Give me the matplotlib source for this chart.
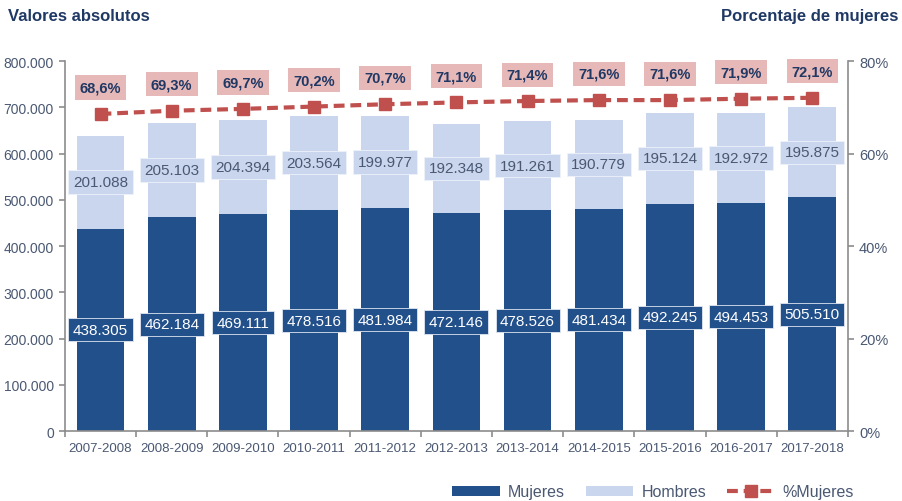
import matplotlib
matplotlib.use("Agg")
import matplotlib.pyplot as plt
import numpy as np
from matplotlib.ticker import FuncFormatter, FixedLocator

plt.rcParams["font.family"] = ["Liberation Sans", "DejaVu Sans"]

cursos = ["2007-2008", "2008-2009", "2009-2010", "2010-2011", "2011-2012", "2012-2013",
          "2013-2014", "2014-2015", "2015-2016", "2016-2017", "2017-2018"]
mujeres = [438305, 462184, 469111, 478516, 481984, 472146, 478526, 481434, 492245, 494453, 505510]
hombres = [201088, 205103, 204394, 203564, 199977, 192348, 191261, 190779, 195124, 192972, 195875]
pct_mujeres = [68.6, 69.3, 69.7, 70.2, 70.7, 71.1, 71.4, 71.6, 71.6, 71.9, 72.1]

C_MUJ = "#22508a"
C_HOM = "#c9d6ee"
C_LINE = "#c0504d"
C_PCT_BG = "#e6b8b7"
C_TEXT = "#4a5872"
C_TITLE = "#1f3864"
C_AXIS = "#8c8c8c"


def miles(v, _=None):
    return f"{int(v):,}".replace(",", ".")


fig = plt.figure(figsize=(9.02, 5.02), dpi=100)
ax = fig.add_axes([0.072, 0.139, 0.868, 0.737])
x = np.arange(len(cursos))
w = 0.67

ax.bar(x, mujeres, w, color=C_MUJ, label="Mujeres", zorder=2)
ax.bar(x, hombres, w, bottom=mujeres, color=C_HOM, label="Hombres", zorder=2)

for xi, m, h in zip(x, mujeres, hombres):
    ax.text(xi, m / 2, miles(m), ha="center", va="center", fontsize=11, color="white", zorder=4,
            bbox=dict(boxstyle="square,pad=0.3", fc=C_MUJ, ec="#dfe6f2", lw=0.6))
    ax.text(xi, m + h / 2, miles(h), ha="center", va="center", fontsize=11, color=C_TEXT, zorder=4,
            bbox=dict(boxstyle="square,pad=0.3", fc=C_HOM, ec="#eef2fa", lw=0.6))

ax.set_xlim(-0.5, len(cursos) - 0.5)
ax.set_ylim(0, 800000)
ax.set_yticks(np.arange(0, 800001, 100000))
ax.yaxis.set_major_formatter(FuncFormatter(miles))
ax.set_xticks(x)
ax.set_xticklabels(cursos)
ax.xaxis.set_minor_locator(FixedLocator(np.arange(-0.5, len(cursos), 1)))
ax.tick_params(axis="x", which="major", length=0, pad=8, labelsize=9.5, labelcolor=C_TEXT)
ax.tick_params(axis="x", which="minor", length=4, color=C_AXIS, width=1.2)
ax.tick_params(axis="y", length=4, color=C_AXIS, width=1.2, labelsize=10, labelcolor=C_TEXT, pad=4)
for s in ["top", "right"]:
    ax.spines[s].set_visible(False)
for s in ["left", "bottom"]:
    ax.spines[s].set_color(C_AXIS)
    ax.spines[s].set_linewidth(1.2)

ax2 = ax.twinx()
ax2.plot(x, pct_mujeres, color=C_LINE, lw=3, ls=(0, (2.6, 1.4)), marker="s", ms=9,
         label="%Mujeres", zorder=5)
ax2.set_ylim(0, 80)
ax2.set_yticks([0, 20, 40, 60, 80])
ax2.yaxis.set_major_formatter(FuncFormatter(lambda v, _: f"{int(v)}%"))
ax2.tick_params(axis="y", length=4, color=C_AXIS, width=1.2, labelsize=10.5, labelcolor=C_TEXT, pad=4)
for s in ["top", "left", "bottom"]:
    ax2.spines[s].set_visible(False)
ax2.spines["right"].set_color(C_AXIS)
ax2.spines["right"].set_linewidth(1.2)

for xi, p in zip(x, pct_mujeres):
    ax2.annotate(f"{p:.1f}%".replace(".", ","), (xi, p), xytext=(0, 19), textcoords="offset points",
                 ha="center", va="center", fontsize=10.5, fontweight="bold", color=C_TITLE,
                 bbox=dict(boxstyle="square,pad=0.35", fc=C_PCT_BG, ec="none"))

fig.text(0.009, 0.958, "Valores absolutos", fontsize=12, fontweight="bold", color=C_TITLE)
fig.text(0.996, 0.958, "Porcentaje de mujeres", fontsize=12, fontweight="bold", color=C_TITLE, ha="right")

h1, l1 = ax.get_legend_handles_labels()
h2, l2 = ax2.get_legend_handles_labels()
fig.legend(h1 + h2, l1 + l2, loc="center", bbox_to_anchor=(0.724, 0.018), ncol=3, frameon=False,
           fontsize=11.5, labelcolor=C_TEXT, handlelength=3.0, handleheight=0.6, columnspacing=1.3,
           handletextpad=0.5)

fig.savefig("out.png", dpi=100, facecolor="white")
